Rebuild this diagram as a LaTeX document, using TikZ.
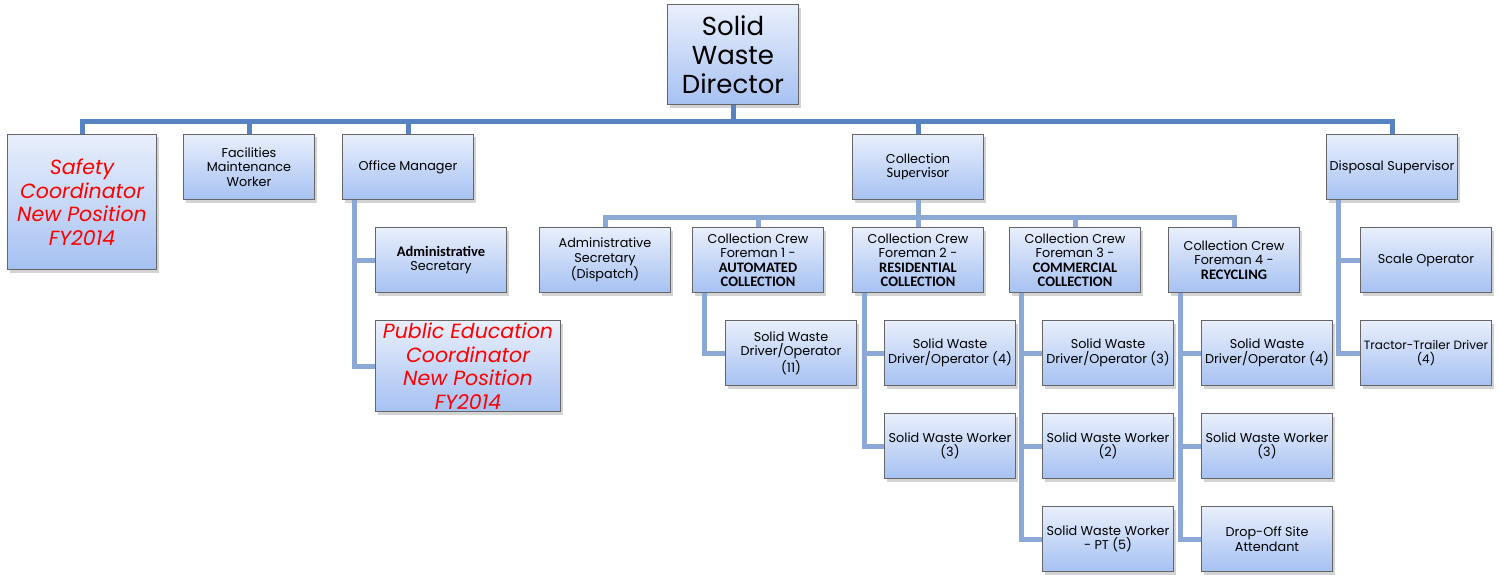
\documentclass[tikz,border=0pt]{standalone}
\usepackage{fontspec}
\setmainfont{Poppins}
\newfontfamily\calib{Carlito}
\usepackage{tikz}
\usepackage{xcolor}
\usetikzlibrary{positioning,shadows,calc}
\definecolor{boxtop}{RGB}{233,239,252}
\definecolor{boxbot}{RGB}{166,193,242}
\definecolor{busblue}{RGB}{88,131,195}
\definecolor{linkblue}{RGB}{140,168,214}
\definecolor{newred}{RGB}{255,0,0}
\newcommand{\bcal}[1]{{\calib\bfseries\fontsize{14.5}{14.5}\selectfont #1}}

\begin{document}
\begin{tikzpicture}[x=1pt,y=-1pt,
  box/.style={draw=gray!80!black,line width=1pt,top color=boxtop,bottom color=boxbot,
    minimum width=131pt,minimum height=65pt,align=center,inner sep=2pt,
    drop shadow={shadow xshift=2pt,shadow yshift=-3pt,opacity=.35},
    font=\fontsize{12.8}{14.5}\selectfont},
  newpos/.style={box,text=newred,font=\fontsize{20.5}{23.5}\selectfont\itshape},
  bus/.style={draw=busblue,line width=5pt},
  link/.style={draw=linkblue,line width=5pt}]
  \useasboundingbox (0,0) rectangle (1499,575);
  \coordinate (topbus) at (0,122);
  \coordinate (colbus) at (0,217);
  % top level
  \node[box,minimum height=100pt,font=\fontsize{26}{29}\selectfont] (dir) at (733,55) {Solid\\Waste\\Director};
  \node[newpos,minimum width=149pt,minimum height=135pt] (safety) at (82,202) {Safety\\Coordinator\\New Position\\FY2014};
  \node[box] (facil) at (249,167) {Facilities\\Maintenance\\Worker};
  \node[box] (office) at (408,167) {Office Manager};
  \node[box] (colsup) at (918,167) {Collection\\{\calib\fontsize{14.5}{14.5}\selectfont Supervisor}};
  \node[box] (dispsup) at (1392,167) {Disposal Supervisor};
  % office
  \node[box] (adsec) at (441,260) {\bcal{Administrative}\\Secretary};
  \node[newpos,minimum width=185pt,minimum height=91pt] (pubed) at (468,366) {Public Education\\Coordinator\\New Position\\FY2014};
  % collection
  \node[box] (dispatch) at (605,260) {Administrative\\Secretary\\(Dispatch)};
  \node[box] (fore1) at (758,260) {Collection Crew\\Foreman 1 -\\\bcal{AUTOMATED}\\\bcal{COLLECTION}};
  \node[box] (fore2) at (918,260) {Collection Crew\\Foreman 2 -\\\bcal{RESIDENTIAL}\\\bcal{COLLECTION}};
  \node[box] (fore3) at (1075,260) {Collection Crew\\Foreman 3 -\\\bcal{COMMERCIAL}\\\bcal{COLLECTION}};
  \node[box] (fore4) at (1234,260) {Collection Crew\\Foreman 4 -\\\bcal{RECYCLING}};
  \node[box] (drv1) at (791,353) {Solid Waste\\Driver/Operator\\(11)};
  \node[box] (drv2) at (950,353) {Solid Waste\\Driver/Operator (4)};
  \node[box] (wrk2) at (950,446) {Solid Waste Worker\\(3)};
  \node[box] (drv3) at (1108,353) {Solid Waste\\Driver/Operator (3)};
  \node[box] (wrk3) at (1108,446) {Solid Waste Worker\\(2)};
  \node[box] (pt3) at (1108,539) {Solid Waste Worker\\- PT (5)};
  \node[box] (drv4) at (1267,353) {Solid Waste\\Driver/Operator (4)};
  \node[box] (wrk4) at (1267,446) {Solid Waste Worker\\(3)};
  \node[box] (drop4) at (1267,539) {Drop-Off Site\\Attendant};
  % disposal
  \node[box] (scaleop) at (1426,260) {Scale Operator};
  \node[box,font=\fontsize{12}{14.5}\selectfont,inner sep=1pt] (tractor) at (1426,353) {Tractor-Trailer Driver\\(4)};
  % connectors
  \draw[bus] (dir.south) -- (dir.south |- topbus) -| (safety.north);
  \foreach \n in {facil,office,colsup,dispsup} \draw[bus] (dir.south |- topbus) -| (\n.north);
  \draw[link] (colsup.south) -- (colsup.south |- colbus) -| (dispatch.north);
  \foreach \n in {fore1,fore2,fore3,fore4} \draw[link] (colsup.south |- colbus) -| (\n.north);
  \foreach \p/\c in {office/adsec,office/pubed,fore1/drv1,fore2/drv2,fore2/wrk2,fore3/drv3,fore3/wrk3,fore3/pt3,fore4/drv4,fore4/wrk4,fore4/drop4,dispsup/scaleop,dispsup/tractor}
    \draw[link] ([xshift=12pt]\p.south west) |- (\c.west);
\end{tikzpicture}
\end{document}
